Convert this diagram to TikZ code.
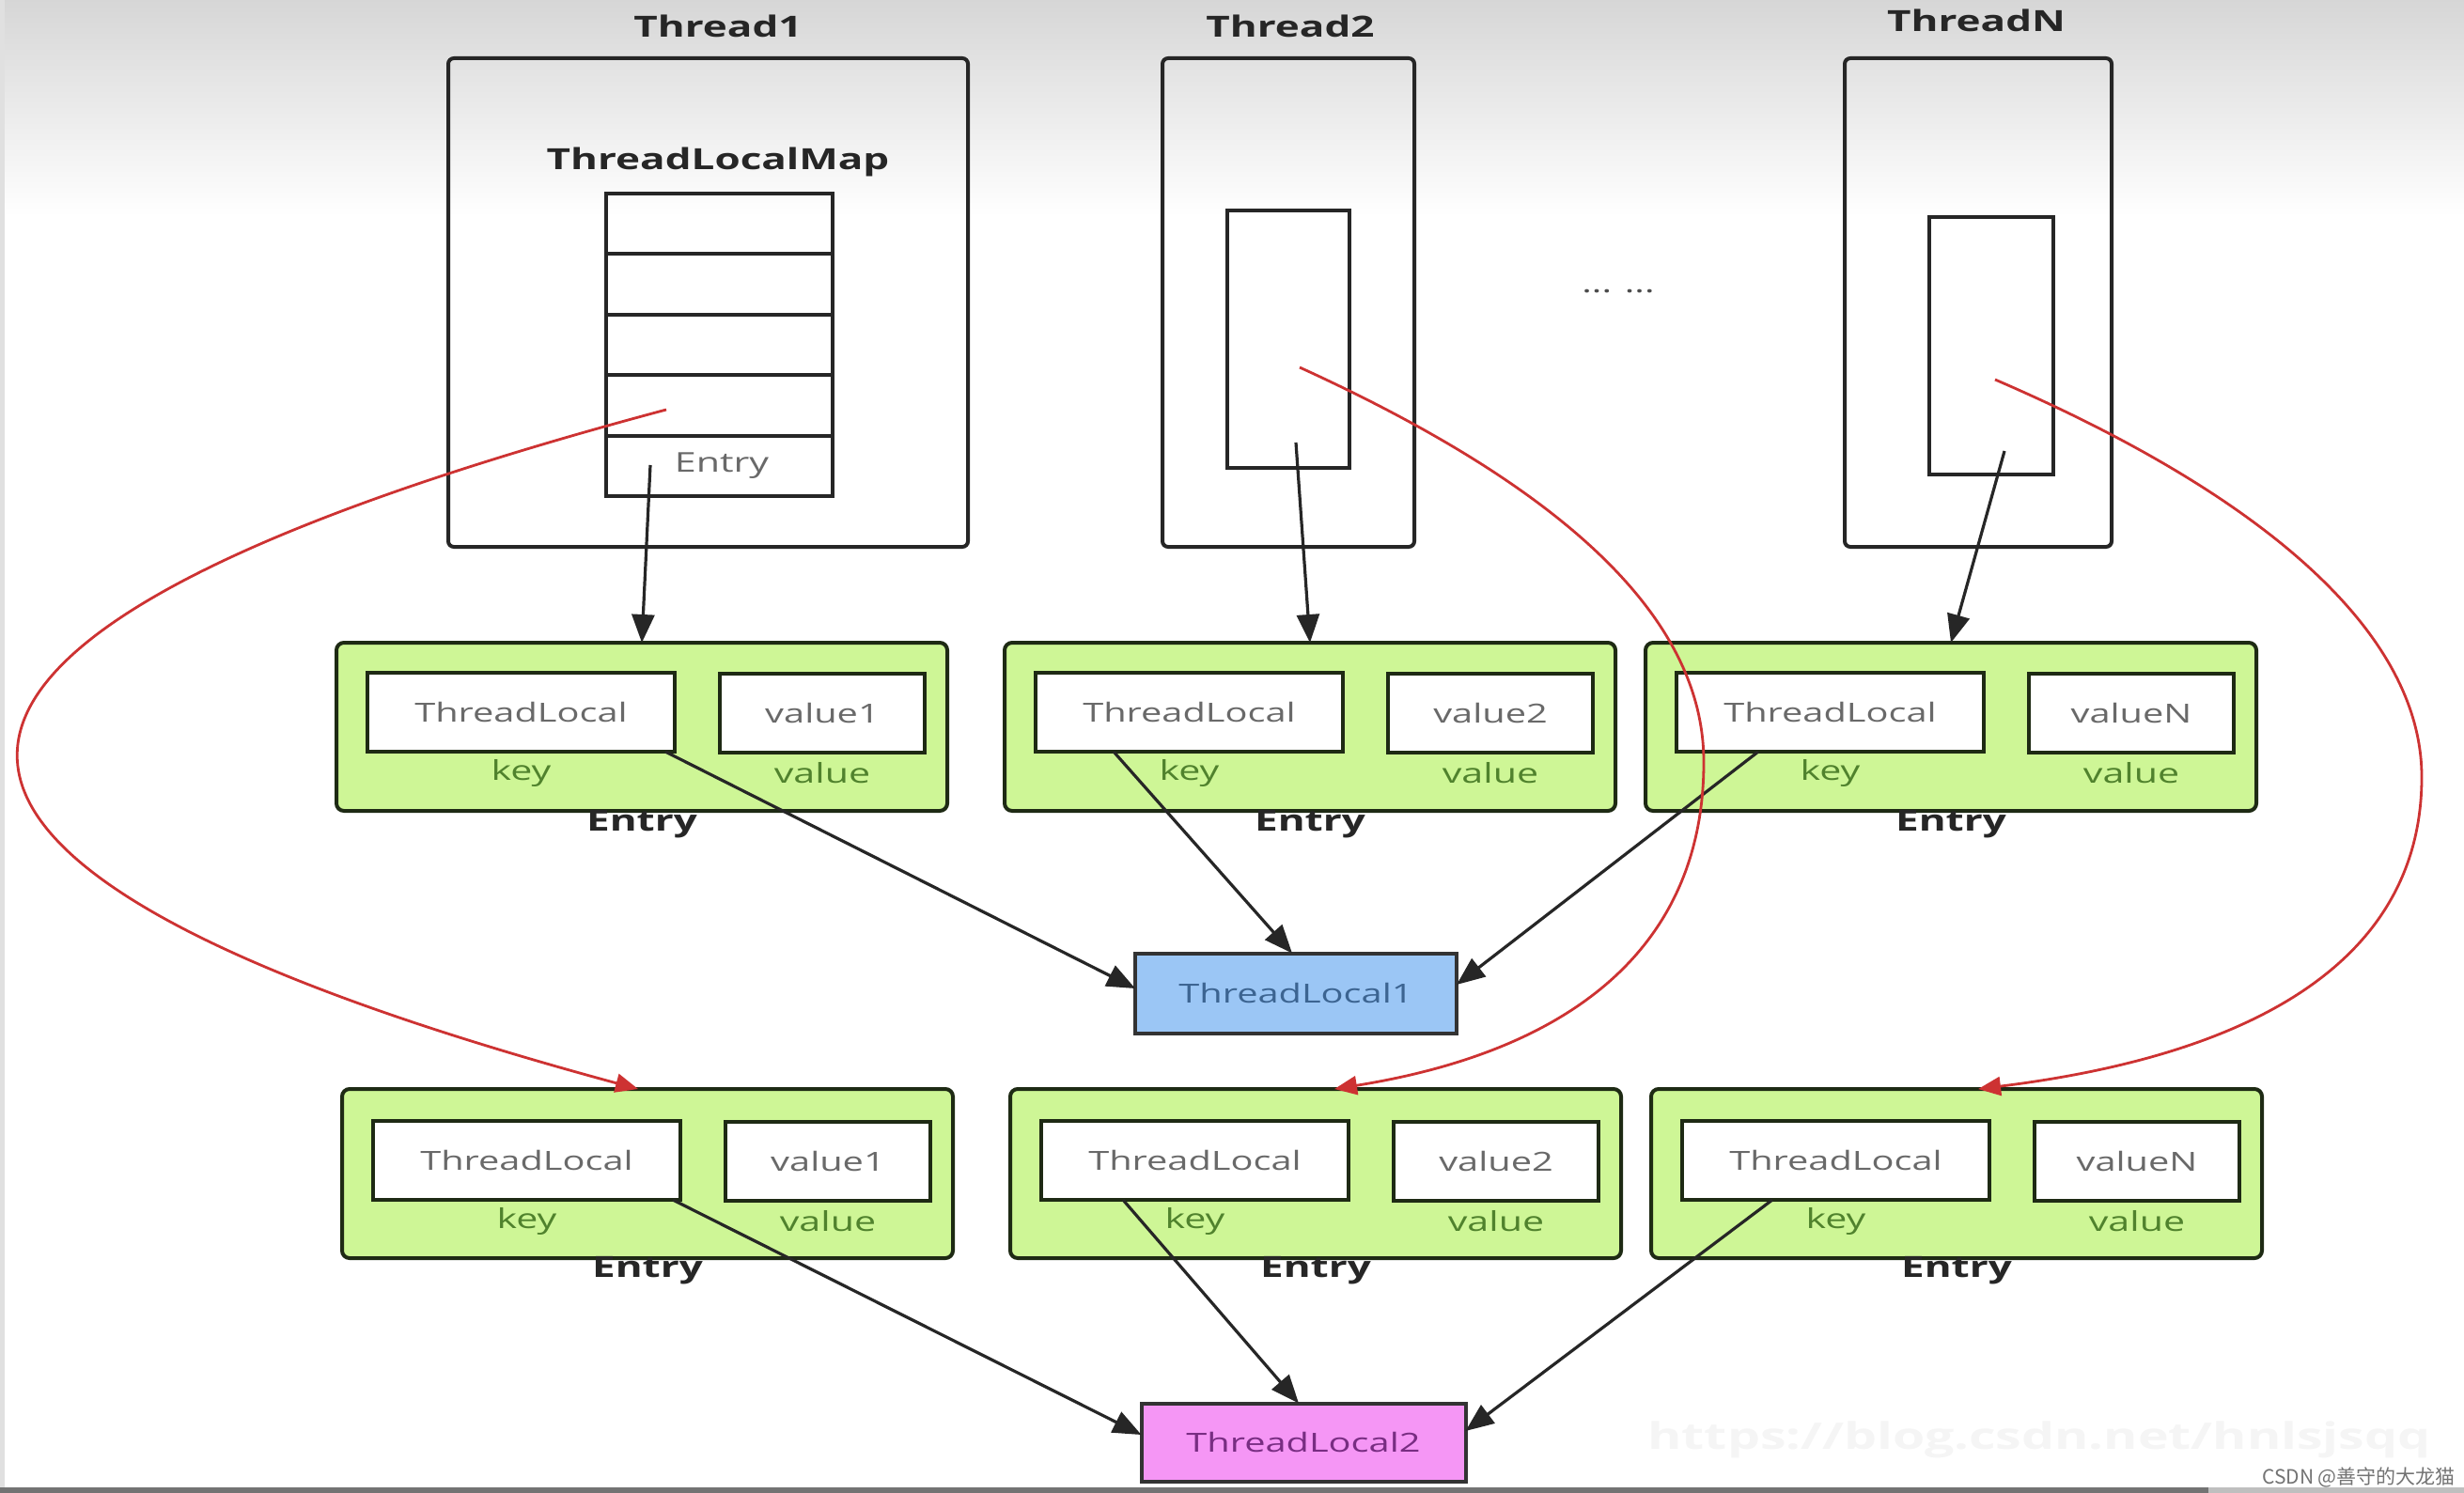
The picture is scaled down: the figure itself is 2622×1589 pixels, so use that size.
\documentclass[tikz,border=0pt]{standalone}
\usepackage{fontspec}
\setmainfont{Open Sans}
\newfontfamily\cjk{Noto Sans CJK SC}
\usepackage{graphicx}
\usetikzlibrary{arrows.meta,calc}
\definecolor{entrygreen}{RGB}{206,246,150}
\definecolor{edgegreen}{RGB}{30,42,20}
\definecolor{tlblue}{RGB}{155,198,245}
\definecolor{tlpink}{RGB}{245,150,245}
\definecolor{txtgray}{RGB}{105,105,105}
\definecolor{keygreen}{RGB}{80,130,45}
\definecolor{tlbluetxt}{RGB}{60,100,145}
\definecolor{tlpinktxt}{RGB}{120,45,130}
\definecolor{curvered}{RGB}{205,50,50}
\newcommand\sx[1]{\scalebox{1.42}[1]{#1}}
\begin{document}
\begin{tikzpicture}[x=0.5pt,y=-0.5pt,
  sz/.style 2 args={minimum width=#1*0.5pt, minimum height=#2*0.5pt},
  base/.style={inner sep=0pt, outer sep=0pt},
  thread/.style={base, draw=black!85, line width=2pt, rounded corners=3pt},
  plainbox/.style={base, draw=black!85, line width=2pt},
  title/.style={font=\fontsize{15.5}{18}\selectfont\bfseries, text=black!85},
  entrybox/.style={base, draw=edgegreen, fill=entrygreen, line width=2pt, rounded corners=4pt},
  inbox/.style={base, draw=edgegreen, fill=white, line width=2pt, text=txtgray, font=\fontsize{14}{16}\selectfont},
  kv/.style={text=keygreen, font=\fontsize{14.5}{16}\selectfont},
  entrylab/.style={text=black!85, font=\fontsize{15.5}{18}\selectfont\bfseries},
  tlbox/.style={base, draw=black!80, line width=2pt, font=\fontsize{14}{16}\selectfont},
  blackarrow/.style={draw=black!85, line width=1.6pt, -{Triangle[length=15pt,width=12pt]}},
  redarrow/.style={draw=curvered, line width=1.4pt, -{Triangle[length=12pt,width=10pt]}}
]
% background
\useasboundingbox (0,0) rectangle (2622,1589);
\fill[white] (0,0) rectangle (2622,1589);
\shade[top color=black!16, bottom color=white] (0,0) rectangle (2622,230);
\fill[black!12] (0,0) rectangle (5,1589);
\fill[black!55] (0,1583) rectangle (2350,1589);
\fill[black!25] (2350,1583) rectangle (2622,1589);

% watermark
\node[text=black!4, font=\fontsize{19.5}{21}\selectfont\bfseries] (wm) at (2170,1532) {\sx{https://blog.csdn.net/hnlsjsqq}};
\node[text=black!55, font=\cjk\fontsize{10.5}{12}\selectfont] (csdn) at (2510,1572) {CSDN @善守的大龙猫};

% thread titles
\node[title] (t1lab) at (764,28) {\sx{Thread1}};
\node[title] (t2lab) at (1373,28) {\sx{Thread2}};
\node[title] (tNlab) at (2103,22) {\sx{ThreadN}};

% thread boxes
\node[thread, sz={553}{520}] (th1) at (753.5,322) {};
\node[thread, sz={268}{520}] (th2) at (1371,322) {};
\node[thread, sz={284}{520}] (thN) at (2105,322) {};

% ThreadLocalMap
\node[title] (maplab) at (764,172) {\sx{ThreadLocalMap}};
\node[plainbox, sz={241}{322}] (map) at (765.5,367) {};
\foreach \i in {1,...,4}
  \draw[line width=2pt, black!85] ($(map.north west)+(0,64.4*\i)$) -- ($(map.north east)+(0,64.4*\i)$);
\node[text=txtgray, font=\fontsize{14.5}{16}\selectfont] (mapentry) at (768,496) {\sx{Entry}};

% inner maps of thread2 / threadN
\node[plainbox, sz={130}{274}] (in2) at (1371,361) {};
\node[plainbox, sz={132}{274}] (inN) at (2119,368) {};

\node[text=black!70, font=\fontsize{14}{16}\selectfont] (dots) at (1722,310) {\sx{... ...}};

% entries row 1
\foreach \n/\l/\v in {1/358/value1,2/1069/value2,3/1751/valueN}{
  \node[entrybox, sz={650}{179}] (e\n) at (\l+325,773.5) {};
  \node[inbox, sz={327}{84}] (k\n) at (\l+196.5,758) {\sx{ThreadLocal}};
  \node[inbox, sz={218}{84}] (v\n) at (\l+517,759) {\sx{\v}};
  \node[kv] (kl\n) at (\l+196.5,823) {\sx{key}};
  \node[kv] (vl\n) at (\l+517,823) {\sx{value}};
  \node[entrylab] (el\n) at (\l+325,877) {\sx{Entry}};
}
% entries row 2
\foreach \n/\l/\v in {4/364/value1,5/1075/value2,6/1757/valueN}{
  \node[entrybox, sz={650}{180}] (e\n) at (\l+325,1249) {};
  \node[inbox, sz={327}{84}] (k\n) at (\l+196.5,1235) {\sx{ThreadLocal}};
  \node[inbox, sz={218}{84}] (v\n) at (\l+517,1236) {\sx{\v}};
  \node[kv] (kl\n) at (\l+196.5,1300) {\sx{key}};
  \node[kv] (vl\n) at (\l+517,1300) {\sx{value}};
  \node[entrylab] (el\n) at (\l+325,1352) {\sx{Entry}};
}

% ThreadLocal objects
\node[tlbox, fill=tlblue, text=tlbluetxt, sz={342}{85}] (tl1) at (1379,1057) {\sx{ThreadLocal1}};
\node[tlbox, fill=tlpink, text=tlpinktxt, sz={345}{83}] (tl2) at (1387,1535) {\sx{ThreadLocal2}};

% black arrows from threads to entries
\coordinate (s1) at (692,495);
\coordinate (s2) at (1379,471);
\coordinate (sN) at (2133,480);
\draw[blackarrow] (s1) -- (e1.north);
\draw[blackarrow] (s2) -- (e2.north);
\draw[blackarrow] (sN) -- (e3.north);

% key arrows
\draw[blackarrow] ($(k1.south east)+(-10,0)$) -- ($(tl1.west)+(0,-5)$);
\draw[blackarrow] ($(k2.south west)+(83,0)$) -- ($(tl1.north)+(-4,0)$);
\draw[blackarrow] ($(k3.south west)+(87,0)$) -- ($(tl1.east)+(0,-9)$);
\draw[blackarrow] ($(k4.south east)+(-8,0)$) -- ($(tl2.west)+(0,-8)$);
\draw[blackarrow] ($(k5.south west)+(87,0)$) -- ($(tl2.north)+(-5,0)$);
\draw[blackarrow] ($(k6.south west)+(96,0)$) -- ($(tl2.east)+(0,-12)$);

% red curves
\coordinate (r1s) at (709,436);
\coordinate (r2s) at (1383,391);
\coordinate (r3s) at (2123,404);
\draw[redarrow] (r1s) .. controls (-198,678) and (-208,919) .. ($(e4.north)+(-10,0)$);
\draw[redarrow] (r2s) .. controls (1690,531) and (1813,671) .. (1813,811)
   .. controls (1813,1001) and (1682,1117) .. ($(e5.north)+(20,0)$);
\draw[redarrow] (r3s) .. controls (2415,530) and (2577,676) .. (2577,827)
   .. controls (2577,1010) and (2420,1120) .. ($(e6.north)+(23,0)$);
\end{tikzpicture}
\end{document}
